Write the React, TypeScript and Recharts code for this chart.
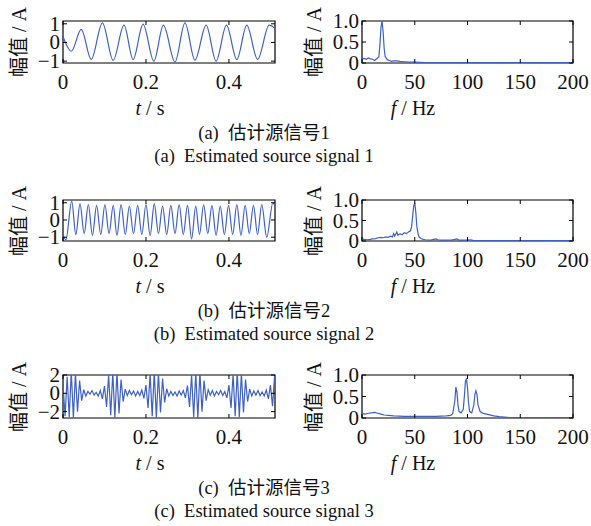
import { LineChart, Line, XAxis, YAxis, ReferenceArea } from 'recharts'

const FONT = "'Liberation Serif', 'Noto Sans CJK SC', serif"
const BLUE = '#3d62c4'

const timeTicks = [0, 0.2, 0.4]
const freqTicks = [0, 50, 100, 150, 200]
const specTicks = [0, 0.5, 1]

// estimated source 1 (~20 Hz), peaks and troughs: [t (s), amplitude]
const sig1: [number, number][] = [
  [0, 0.32], [0.02, -0.47], [0.044, 0.7], [0.068, -0.91], [0.095, 1.05],
  [0.121, -0.96], [0.147, 0.93], [0.169, -0.91], [0.193, 0.98], [0.219, -1.0],
  [0.242, 0.93], [0.27, -1.05], [0.294, 1.05], [0.318, -0.95], [0.345, 0.93],
  [0.369, -1.0], [0.394, 0.93], [0.419, -0.91], [0.443, 0.93], [0.469, -0.91],
  [0.497, 0.93], [0.511, 0.75],
]

// estimated source 2 (~50 Hz)
const sig2: [number, number][] = [
  [0, -0.85], [0.007, -1.15], [0.021, 1.1], [0.031, -0.85], [0.041, 0.95],
  [0.051, -0.8], [0.061, 0.9], [0.071, -0.9], [0.081, 0.85], [0.091, -0.85],
  [0.101, 0.9], [0.111, -0.8], [0.121, 0.85], [0.13, -0.9], [0.14, 0.9],
  [0.15, -0.85], [0.16, 0.8], [0.17, -0.8], [0.18, 0.85], [0.19, -0.85],
  [0.2, 0.9], [0.21, -0.9], [0.22, 0.95], [0.23, -0.8], [0.24, 0.8],
  [0.25, -0.85], [0.26, 0.85], [0.27, -0.8], [0.28, 0.9], [0.29, -0.85],
  [0.3, 0.85], [0.31, -1.1], [0.32, 0.8], [0.329, -0.85], [0.339, 0.9],
  [0.349, -0.8], [0.359, 0.85], [0.369, -0.9], [0.379, 0.8], [0.389, -0.85],
  [0.399, 0.85], [0.409, -0.85], [0.419, 0.9], [0.429, -0.9], [0.439, 0.85],
  [0.449, -0.8], [0.459, 0.85], [0.469, -0.85], [0.479, 0.9], [0.491, -1.0],
  [0.506, 1.0], [0.511, 0.8],
]

// estimated source 3 (100 Hz bursts), one extreme every 5 ms
const SIG3_DT = 0.005
const sig3 = [
  1.0, -2.5, 1.8, -2.6, 2.4, -2.7, 2.2, -2.0, 1.4, -0.8,
  0.4, -0.3, 0.2, -0.1, 0.3, -0.2, 0.1, -0.3, 0.3, -0.6,
  0.8, -1.5, 2.0, -2.4, 2.3, -2.7, 2.3, -2.2, 1.5, -0.9,
  0.45, -0.25, 0.3, -0.15, 0.25, -0.3, 0.2, -0.25, 0.35, -0.55,
  0.9, -1.6, 2.1, -2.5, 2.4, -2.7, 2.2, -2.1, 1.6, -1.0,
  0.5, -0.3, 0.2, -0.25, 0.15, -0.3, 0.25, -0.2, 0.3, -0.5,
  0.85, -1.5, 2.0, -2.6, 2.3, -2.7, 2.3, -2.0, 1.4, -0.8,
  0.4, -0.2, 0.3, -0.3, 0.2, -0.15, 0.3, -0.25, 0.2, -0.5,
  0.9, -1.6, 2.1, -2.5, 2.4, -2.6, 2.2, -2.1, 1.5, -0.9,
  0.45, -0.3, 0.25, -0.2, 0.3, -0.25, 0.15, -0.3, 0.35, -0.6,
  0.9, -1.4, 1.9,
]

// amplitude spectra: [f (Hz), amplitude]
const spec1: [number, number][] = [
  [0, 0.1], [2, 0.11], [4, 0.09], [6, 0.12], [8, 0.1], [10, 0.09], [12, 0.06],
  [14, 0.1], [16, 0.15], [17, 0.45], [18, 0.85], [19, 1.0], [20, 0.75], [21, 0.35],
  [22, 0.15], [24, 0.08], [26, 0.06], [28, 0.04], [30, 0.05], [33, 0.05], [36, 0.04],
  [40, 0.03], [45, 0.02], [50, 0.02], [60, 0.01], [80, 0.01], [100, 0.01],
  [150, 0.01], [200, 0.01],
]

const spec2: [number, number][] = [
  [0, 0.05], [2, 0.04], [5, 0.03], [8, 0.04], [10, 0.05], [13, 0.06], [15, 0.08],
  [18, 0.09], [20, 0.08], [23, 0.1], [25, 0.09], [27, 0.12], [29, 0.1], [30, 0.18],
  [31, 0.12], [33, 0.22], [34, 0.14], [36, 0.18], [38, 0.15], [40, 0.2], [42, 0.18],
  [44, 0.22], [46, 0.25], [47, 0.35], [48, 0.6], [49, 0.85], [50, 0.93], [51, 0.7],
  [52, 0.35], [53, 0.2], [54, 0.1], [56, 0.06], [58, 0.04], [60, 0.03], [65, 0.02],
  [70, 0.05], [72, 0.03], [75, 0.02], [80, 0.02], [85, 0.02], [90, 0.05], [92, 0.02],
  [95, 0.02], [100, 0.02], [103, 0.03], [106, 0.01], [120, 0.01], [150, 0.01],
  [200, 0.01],
]

const spec3: [number, number][] = [
  [0, 0.1], [3, 0.09], [6, 0.11], [9, 0.12], [12, 0.13], [15, 0.11], [18, 0.09],
  [21, 0.07], [25, 0.06], [30, 0.05], [40, 0.04], [50, 0.04], [60, 0.04], [70, 0.04],
  [80, 0.05], [84, 0.06], [86, 0.1], [88, 0.4], [89, 0.72], [90, 0.6], [91, 0.3],
  [92, 0.15], [94, 0.12], [96, 0.2], [97, 0.5], [98, 0.85], [99, 0.92], [100, 0.7],
  [101, 0.35], [102, 0.15], [104, 0.12], [106, 0.3], [107, 0.55], [108, 0.63],
  [109, 0.55], [110, 0.3], [112, 0.15], [114, 0.12], [116, 0.1], [120, 0.08],
  [125, 0.05], [130, 0.03], [135, 0.02], [140, 0.01], [200, 0.01],
]

const toRows = (pts: [number, number][]) => pts.map(([x, y]) => ({ x, y }))

const TICK_SIZE = 6
const TICK_MARGIN = 2
const TICK_LEN = 4
const M_TOP = 14
const M_RIGHT = 18
const Y_W = 63
const X_H = 30
const minus = (v: number) => (v < 0 ? '\u2212' + Math.abs(v) : String(v))

function XTick(props: any) {
  const { x, y, payload, plotH, fmt } = props
  const y0 = y - TICK_SIZE - TICK_MARGIN
  return (
    <g>
      <line x1={x} x2={x} y1={y0} y2={y0 - TICK_LEN} stroke="#000" />
      <line x1={x} x2={x} y1={y0 - plotH} y2={y0 - plotH + TICK_LEN} stroke="#000" />
      <text x={x} y={y0 + 19} textAnchor="middle" dominantBaseline="central"
        fontFamily={FONT} fontSize={21} fill="#111">
        {fmt(payload.value)}
      </text>
    </g>
  )
}

function YTick(props: any) {
  const { x, y, payload, plotW, fmt } = props
  const x0 = x + TICK_SIZE + TICK_MARGIN
  return (
    <g>
      <line x1={x0} x2={x0 + TICK_LEN} y1={y} y2={y} stroke="#000" />
      <line x1={x0 + plotW} x2={x0 + plotW - TICK_LEN} y1={y} y2={y} stroke="#000" />
      <text x={x0 - 3} y={y} textAnchor="end" dominantBaseline="central"
        fontFamily={FONT} fontSize={21} fill="#111">
        {fmt(payload.value)}
      </text>
    </g>
  )
}

type PanelProps = {
  rows: { x: number; y: number }[]
  boxLeft: number
  boxTop: number
  boxW: number
  boxH: number
  xDomain: [number, number]
  xTicks: number[]
  yDomain: [number, number]
  yTicks: number[]
  yFmt: (v: number) => string
  curve: 'monotone' | 'linear'
}

function Panel({ rows, boxLeft, boxTop, boxW, boxH, xDomain, xTicks, yDomain, yTicks, yFmt, curve }: PanelProps) {
  return (
    <div style={{ position: 'absolute', left: boxLeft - Y_W, top: boxTop - M_TOP }}>
      <LineChart width={boxW + Y_W + M_RIGHT} height={boxH + M_TOP + X_H} data={rows}
        margin={{ top: M_TOP, right: M_RIGHT, bottom: 0, left: 0 }}>
        <XAxis type="number" dataKey="x" domain={xDomain} ticks={xTicks} interval={0}
          allowDataOverflow axisLine={false} tickLine={false} height={X_H}
          tickSize={TICK_SIZE} tickMargin={TICK_MARGIN}
          tick={(p: any) => <XTick {...p} plotH={boxH} fmt={(v: number) => String(v)} />} />
        <YAxis type="number" domain={yDomain} ticks={yTicks} interval={0}
          allowDataOverflow axisLine={false} tickLine={false} width={Y_W}
          tickSize={TICK_SIZE} tickMargin={TICK_MARGIN}
          tick={(p: any) => <YTick {...p} plotW={boxW} fmt={yFmt} />} />
        <Line dataKey="y" type={curve} stroke={BLUE} strokeWidth={1.2} dot={false}
          isAnimationActive={false} />
        <ReferenceArea x1={xDomain[0]} x2={xDomain[1]} y1={yDomain[0]} y2={yDomain[1]}
          stroke="#000" strokeWidth={1.2} fill="none" fillOpacity={0} />
      </LineChart>
    </div>
  )
}

function Txt({ x, y, size, rotate, children }: { x: number; y: number; size: number; rotate?: boolean; children: any }) {
  return (
    <div style={{
      position: 'absolute', left: x, top: y, fontSize: size, fontFamily: FONT, color: '#111',
      lineHeight: 1, whiteSpace: 'pre',
      transform: `translate(-50%, -50%)${rotate ? ' rotate(-90deg)' : ''}`,
    }}>
      {children}
    </div>
  )
}

const rowsSpec = [
  { top: 21, boxH: 42, sig: toRows(sig1), yDom: [-1.1, 1.15] as [number, number], yT: [-1, 0, 1], spec: toRows(spec1), label: 'a', n: 1, curve: 'monotone' as const },
  { top: 200, boxH: 41, sig: toRows(sig2), yDom: [-1.22, 1.16] as [number, number], yT: [-1, 0, 1], spec: toRows(spec2), label: 'b', n: 2, curve: 'monotone' as const },
  { top: 375, boxH: 43, sig: sig3.map((y, i) => ({ x: i * SIG3_DT, y })), yDom: [-2.7, 2] as [number, number], yT: [-2, 0, 2], spec: toRows(spec3), label: 'c', n: 3, curve: 'linear' as const },
]

export default function App() {
  return (
    <div style={{ position: 'absolute', left: 0, top: 0, width: 591, height: 526, background: '#fff', overflow: 'hidden' }}>
      {rowsSpec.map((r) => {
        const bottom = r.top + r.boxH
        const mid = r.top + r.boxH / 2
        return (
          <div key={r.label}>
            <Panel rows={r.sig} boxLeft={63} boxTop={r.top} boxW={212} boxH={r.boxH}
              xDomain={[0, 0.511]} xTicks={timeTicks} yDomain={r.yDom} yTicks={r.yT}
              yFmt={minus} curve={r.curve} />
            <Panel rows={r.spec} boxLeft={362} boxTop={r.top} boxW={211} boxH={r.boxH}
              xDomain={[0, 200]} xTicks={freqTicks} yDomain={[0, 1]} yTicks={specTicks}
              yFmt={(v) => (v === 0 ? '0' : v.toFixed(1))} curve="linear" />
            <Txt x={19} y={mid} size={20} rotate>幅值 / A</Txt>
            <Txt x={314} y={mid} size={20} rotate>幅值 / A</Txt>
            <Txt x={150} y={bottom + 45} size={20}><i>t</i> / s</Txt>
            <Txt x={413} y={bottom + 45} size={20}><i>f</i> / Hz</Txt>
            <Txt x={264} y={bottom + 70} size={18.5}>{`(${r.label})  估计源信号${r.n}`}</Txt>
            <Txt x={264} y={bottom + 93} size={18.5}>{`(${r.label})  Estimated source signal ${r.n}`}</Txt>
          </div>
        )
      })}
    </div>
  )
}
